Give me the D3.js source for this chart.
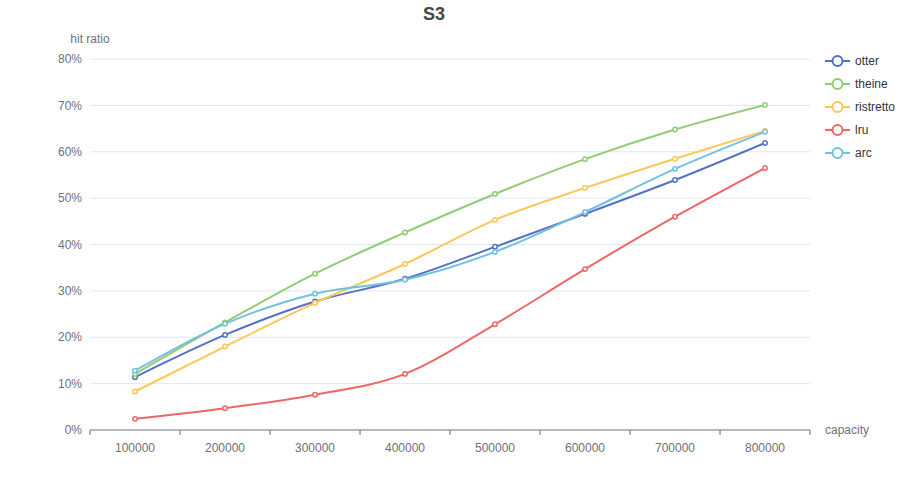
<!DOCTYPE html>
<html><head><meta charset="utf-8">
<script src="https://cdn.jsdelivr.net/npm/d3@7"></script>
<style>body{margin:0;background:#fff}svg{display:block;font-family:"Liberation Sans",Arial,sans-serif}</style>
</head><body><svg id="c" width="900" height="500"></svg>
<script>
const categories = ["100000","200000","300000","400000","500000","600000","700000","800000"];
const seriesNames = ["otter","theine","ristretto","lru","arc"];
const colors = ["#5470c6","#91cc75","#fac858","#ee6666","#73c0de"];
const otter = [11.4, 20.5, 27.7, 32.6, 39.5, 46.6, 53.9, 61.9];
const theine = [12.1, 23.2, 33.7, 42.6, 50.9, 58.4, 64.8, 70.1];
const ristretto = [8.3, 18.0, 27.4, 35.8, 45.3, 52.2, 58.5, 64.5];
const lru = [2.4, 4.7, 7.6, 12.1, 22.8, 34.7, 46.0, 56.5];
const arc = [12.8, 22.9, 29.4, 32.4, 38.4, 47.0, 56.3, 64.3];
const yTicks = [0,10,20,30,40,50,60,70,80];
const seriesData = [otter, theine, ristretto, lru, arc];

(function(){
const svg = d3.select("#c");
const gLeft = 90, gRight = 810, gTop = 59, gBottom = 430;
const x = d3.scaleBand().domain(categories).range([gLeft, gRight]);
const y = d3.scaleLinear().domain([0, 80]).range([gBottom, gTop]);

svg.append("g").selectAll("line").data(yTicks.filter(d => d > 0)).join("line")
  .attr("x1", gLeft).attr("x2", gRight)
  .attr("y1", d => y(d)).attr("y2", d => y(d))
  .attr("stroke", "#e0e6f1").attr("stroke-width", 1);

svg.append("g").selectAll("text").data(yTicks).join("text")
  .attr("x", gLeft - 8).attr("y", d => y(d)).attr("dy", "0.35em")
  .attr("text-anchor", "end").attr("font-size", 12).attr("fill", "#6e7079")
  .text(d => d + "%");

const xg = svg.append("g").attr("transform", `translate(0,${gBottom})`);
xg.append("line").attr("x1", gLeft).attr("x2", gRight).attr("stroke", "#6e7079");
const bounds = categories.map(c => x(c)).concat([gRight]);
xg.selectAll("line.t").data(bounds).join("line").attr("class","t")
  .attr("x1", d => d).attr("x2", d => d).attr("y1", 0).attr("y2", 5).attr("stroke", "#6e7079");
xg.selectAll("text").data(categories).join("text")
  .attr("x", d => x(d) + x.bandwidth()/2).attr("y", 13).attr("dy", "0.71em")
  .attr("text-anchor", "middle").attr("font-size", 12).attr("fill", "#6e7079").text(d => d);

svg.append("text").attr("x", gLeft).attr("y", 39).attr("dy", "0.35em").attr("text-anchor", "middle")
  .attr("font-size", 12).attr("fill", "#6e7079").text("hit ratio");
svg.append("text").attr("x", gRight + 15).attr("y", gBottom).attr("dy", "0.35em")
  .attr("font-size", 12).attr("fill", "#6e7079").text("capacity");

svg.append("text").attr("x", 434).attr("y", 14).attr("dy", "0.35em").attr("text-anchor", "middle")
  .attr("font-size", 18).attr("font-weight", "bold").attr("fill", "#464646").text("S3");

const line = d3.line().x((d,i) => x(categories[i]) + x.bandwidth()/2).y(d => y(d)).curve(d3.curveMonotoneX);

seriesData.forEach((data, si) => {
  const g = svg.append("g");
  g.append("path").attr("d", line(data)).attr("fill", "none")
    .attr("stroke", colors[si]).attr("stroke-width", 2);
  g.selectAll("circle").data(data).join("circle")
    .attr("cx", (d,i) => x(categories[i]) + x.bandwidth()/2).attr("cy", d => y(d))
    .attr("r", 2.2).attr("fill", "#fff").attr("stroke", colors[si]).attr("stroke-width", 1.5);
});

const lg = svg.append("g");
seriesNames.forEach((n, i) => {
  const yy = 61 + i * 23;
  lg.append("line").attr("x1", 825).attr("x2", 850).attr("y1", yy).attr("y2", yy)
    .attr("stroke", colors[i]).attr("stroke-width", 2);
  lg.append("circle").attr("cx", 837.5).attr("cy", yy).attr("r", 5)
    .attr("fill", "#fff").attr("stroke", colors[i]).attr("stroke-width", 2);
  lg.append("text").attr("x", 855).attr("y", yy).attr("dy", "0.35em")
    .attr("font-size", 12).attr("fill", "#333").text(n);
});
})();
</script></body></html>
